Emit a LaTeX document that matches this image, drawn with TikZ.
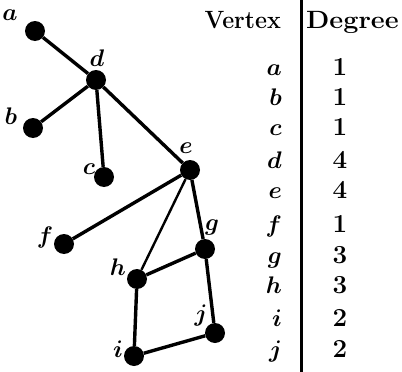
\RequirePackage{fix-cm}
\documentclass[tikz,border=0pt]{standalone}
\begin{document}
\begin{tikzpicture}[x=1pt,y=-1pt,
  vtx/.style={circle,fill=black,inner sep=0pt,minimum size=20pt},
  edge/.style={line width=3.4pt},
  thinedge/.style={line width=2.4pt},
  lbl/.style={font=\fontsize{24}{26}\selectfont\boldmath,inner sep=0pt},
  hdr/.style={font=\fontsize{25}{28}\selectfont\bfseries,inner sep=0pt},
  num/.style={font=\fontsize{26}{28}\selectfont\bfseries,inner sep=0pt}]
\useasboundingbox (0,0) rectangle (402,372);
\node[vtx] (a) at (35,31) {};
\node[vtx] (d) at (96,80) {};
\node[vtx] (b) at (33,128) {};
\node[vtx] (c) at (104,177) {};
\node[vtx] (e) at (190,170) {};
\node[vtx] (f) at (64,244) {};
\node[vtx] (g) at (205,249) {};
\node[vtx] (h) at (137,279) {};
\node[vtx] (j) at (215,333) {};
\node[vtx] (i) at (134,356) {};
\draw[edge] (a) -- (d);
\draw[edge] (d) -- (b);
\draw[edge] (d) -- (c);
\draw[edge] (d) -- (e);
\draw[edge] (e) -- (f);
\draw[thinedge] (e) -- (h);
\draw[edge] (e) -- (g);
\draw[edge] (g) -- (h);
\draw[edge] (g) -- (j);
\draw[edge] (h) -- (i);
\draw[edge] (i) -- (j);
\node[lbl] (la) at (10,15) {$a$};
\node[lbl] (ld) at (97,58) {$d$};
\node[lbl] (lb) at (11,116) {$b$};
\node[lbl] (lc) at (89,169) {$c$};
\node[lbl] (le) at (186,148) {$e$};
\node[lbl] (lf) at (45,237) {$f$};
\node[lbl] (lg) at (212,227) {$g$};
\node[lbl] (lh) at (118,267) {$h$};
\node[lbl] (lj) at (201,316) {$j$};
\node[lbl] (li) at (118,349) {$i$};
\node[hdr,anchor=base east,xscale=0.93] (hv) at (281,28) {Vertex};
\node[hdr,anchor=base west,xscale=1.08] (hd) at (306,28) {Degree};
\coordinate (top) at (301,0);
\coordinate (bot) at (301,372);
\draw[line width=3pt] (top) -- (bot);
\foreach \v/\n/\y in {a/1/75,b/1/105,c/1/135,d/4/168,e/4/198,f/1/232,g/3/263,h/3/293,i/2/326,j/2/357}{
  \node[lbl,anchor=base east] (r\v) at (282,\y) {$\v$};
  \node[num,anchor=base] (n\v) at (340,\y) {\n};
}
\end{tikzpicture}
\end{document}
